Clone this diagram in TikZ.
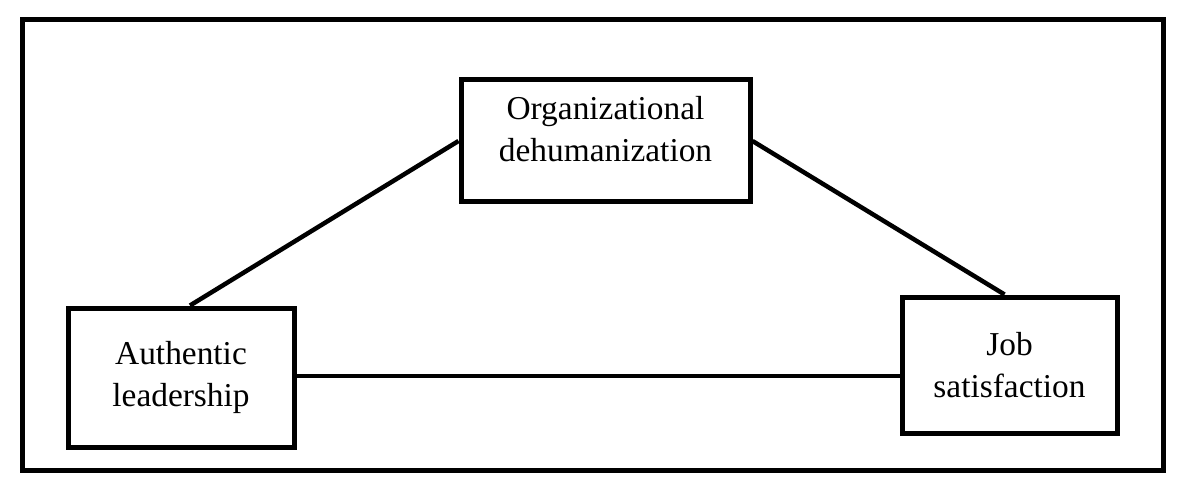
\documentclass[tikz,border=0pt]{standalone}
\usepackage{fontspec}
\setmainfont{Liberation Serif}
\usetikzlibrary{calc}
\tikzset{
	varbox/.style={draw, line width=0.1cm, align=center, inner sep=0pt, font=\fontsize{19}{24}\selectfont},
	link/.style={line width=0.09cm}
}

\begin{document}
\begin{tikzpicture}
		%%%%% START %%%%%
		\useasboundingbox (0, 0) rectangle (23.62, 9.84);
		
		\draw[line width=0.1cm] (0.44, 0.44) rectangle (23.26, 9.44);
		
		\node[varbox, minimum width=5.78cm, minimum height=2.44cm] (od) at (12.11, 7.02) {Organizational\\dehumanization\\[-0.35cm]};
		\node[varbox, minimum width=4.52cm, minimum height=2.78cm] (al) at (3.62, 2.29) {Authentic\\leadership};
		\node[varbox, minimum width=4.30cm, minimum height=2.72cm] (js) at (20.19, 2.54) {Job\\satisfaction};
		
		\draw[link] ([xshift=0.18cm]al.north) -- (od.west);
		\draw[link] (od.east) -- ([xshift=-0.1cm]js.north);
		\draw[link] ([yshift=0.03cm]al.east) -- ([yshift=0.03cm]al.east -| js.west);
		
		%%%%% END %%%%%
	\end{tikzpicture}
\end{document}
